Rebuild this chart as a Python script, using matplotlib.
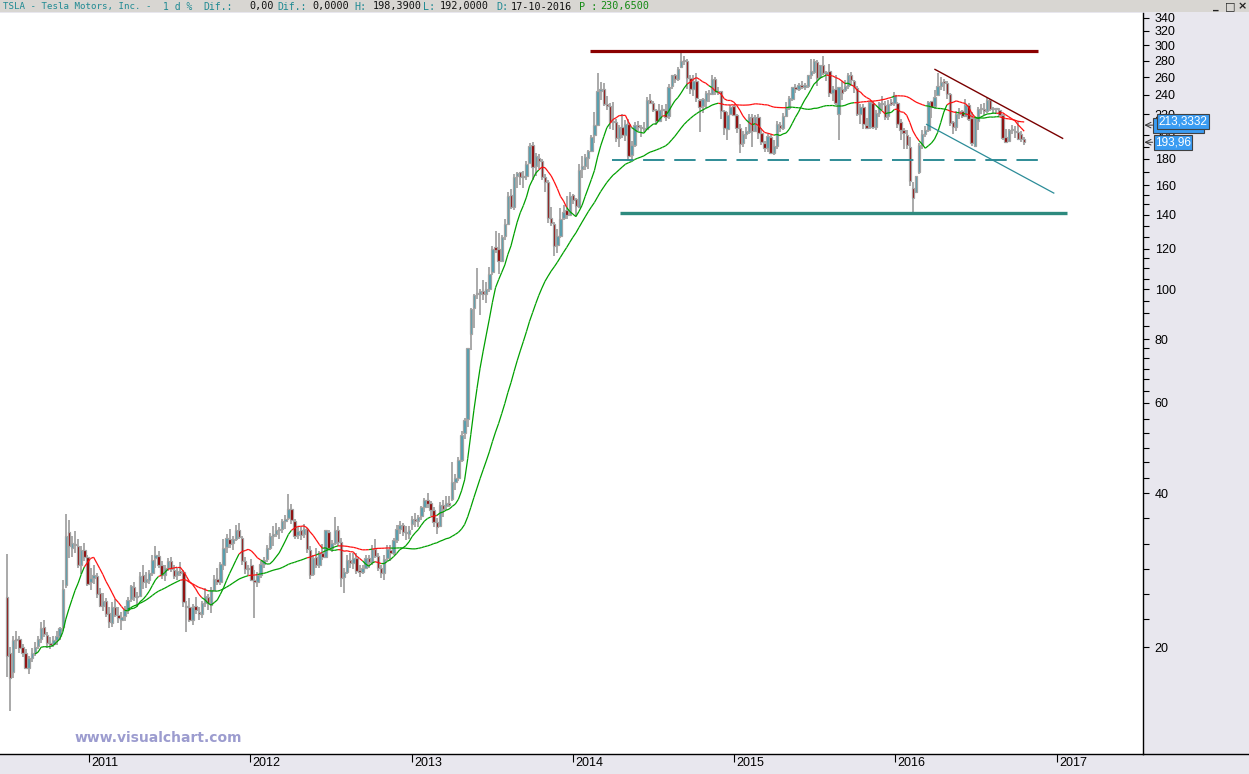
import matplotlib
matplotlib.use('Agg')
import matplotlib.pyplot as plt
import matplotlib.dates as mdates
import matplotlib.transforms as mtransforms
from matplotlib import font_manager
from matplotlib.collections import LineCollection
from matplotlib.patches import Rectangle
from matplotlib.lines import Line2D
import numpy as np
import pandas as pd

# TSLA weekly bars (open, high, low, close), weeks start on Monday
first_week = '2010-06-28'

bars_2010 = [
    (25.0, 30.4, 17.5, 19.2), (19.5, 20.0, 15.0, 17.4), (17.9, 21.0, 17.4, 20.6), (20.7, 21.5, 19.8, 20.6),
    (20.7, 21.0, 19.5, 19.9), (20.0, 20.3, 19.1, 19.5), (19.5, 19.8, 18.1, 18.2), (18.2, 19.2, 17.7, 19.0),
    (19.0, 19.9, 18.7, 19.5), (19.5, 20.5, 19.2, 20.0), (20.1, 21.0, 19.8, 20.7), (20.7, 22.4, 20.4, 21.8),
    (21.9, 22.6, 20.9, 21.2), (21.1, 21.4, 19.9, 20.4), (20.4, 20.9, 19.8, 20.2), (20.3, 21.0, 20.0, 20.6),
    (20.6, 21.5, 20.2, 21.0), (21.0, 21.9, 20.6, 21.8), (21.9, 27.0, 21.5, 26.0), (26.5, 36.4, 26.1, 33.0),
    (33.5, 35.5, 29.8, 31.5), (31.3, 33.0, 30.0, 32.0), (31.8, 33.7, 30.5, 31.6), (31.5, 32.5, 28.5, 29.0),
    (29.0, 31.5, 27.8, 31.0), (31.0, 32.0, 29.5, 30.0), (30.0, 30.3, 26.3, 26.6),
]
bars_2011 = [
    (26.8, 28.6, 25.9, 27.3), (27.3, 28.9, 26.6, 27.6), (27.5, 27.9, 24.9, 25.4), (25.5, 26.1, 24.0, 24.1),
    (24.1, 25.5, 23.5, 24.6), (24.6, 24.9, 22.9, 23.2), (23.3, 24.0, 21.8, 22.4), (22.3, 24.5, 21.9, 24.0),
    (24.0, 24.8, 22.9, 23.1), (23.1, 23.9, 22.3, 22.8), (22.6, 23.4, 21.6, 22.9), (23.0, 24.1, 22.5, 23.6),
    (23.6, 25.0, 23.2, 24.7), (24.8, 26.5, 24.5, 26.3), (26.2, 26.8, 24.6, 25.1), (25.0, 25.6, 24.0, 25.2),
    (25.2, 28.0, 25.0, 27.5), (27.6, 28.9, 26.0, 26.8), (26.8, 28.0, 26.1, 27.2), (27.1, 28.3, 26.6, 27.9),
    (27.9, 30.3, 27.5, 29.6), (29.8, 31.5, 28.5, 30.3), (30.1, 30.8, 28.6, 29.0), (28.9, 29.5, 27.2, 27.6),
    (27.6, 28.9, 26.9, 28.6), (28.6, 29.9, 28.2, 29.4), (29.4, 30.0, 28.0, 28.4), (28.3, 28.9, 27.2, 27.5),
    (27.6, 28.7, 27.1, 28.2), (28.2, 29.3, 27.5, 27.9), (28.0, 28.3, 24.0, 24.5), (24.0, 24.6, 21.4, 23.9),
    (24.0, 24.9, 22.4, 22.6), (22.6, 24.3, 22.1, 24.0), (24.1, 25.0, 23.2, 23.6), (23.4, 24.0, 22.6, 23.2),
    (23.2, 24.6, 22.8, 24.4), (24.4, 26.1, 23.9, 25.2), (25.1, 25.4, 23.6, 24.4), (24.2, 26.2, 23.3, 25.8),
    (25.9, 27.6, 25.7, 27.2), (27.2, 28.6, 26.5, 26.8), (26.8, 29.3, 26.4, 29.1), (29.0, 32.5, 28.3, 31.3),
    (31.4, 33.2, 30.6, 32.7), (32.6, 34.0, 31.2, 31.8), (32.0, 33.0, 30.9, 32.5), (32.6, 34.6, 32.2, 33.8),
    (33.9, 35.0, 32.5, 32.8), (32.7, 33.0, 29.0, 29.5), (29.5, 30.0, 27.8, 28.4), (28.4, 29.0, 27.7, 28.6),
]
bars_2012 = [
    (28.9, 29.7, 26.9, 27.0), (27.0, 28.3, 22.8, 26.8), (26.8, 28.0, 26.2, 27.6), (27.6, 29.5, 27.3, 29.1),
    (29.1, 30.0, 28.5, 29.6), (29.7, 31.7, 29.3, 31.2), (31.3, 33.4, 30.9, 33.0), (33.0, 34.5, 31.5, 33.3),
    (33.3, 34.9, 32.8, 33.8), (33.8, 34.4, 32.6, 34.0), (34.0, 35.6, 33.4, 35.2), (35.2, 36.3, 34.1, 35.6),
    (35.7, 39.9, 35.4, 37.2), (37.3, 38.0, 34.8, 35.4), (35.3, 35.6, 32.6, 33.0), (33.1, 34.3, 32.6, 33.7),
    (33.8, 34.3, 32.4, 33.1), (33.2, 34.8, 32.7, 34.0), (34.0, 34.2, 30.6, 31.1), (31.0, 31.5, 27.2, 27.6),
    (27.8, 30.3, 27.5, 29.9), (30.0, 31.3, 28.6, 29.0), (28.9, 30.8, 28.6, 30.5), (30.5, 31.8, 29.6, 30.0),
    (30.0, 33.9, 29.8, 33.8), (33.5, 33.9, 30.9, 31.3), (31.3, 32.4, 30.7, 32.0), (32.0, 35.9, 31.6, 33.9),
    (33.9, 34.5, 31.5, 32.1), (32.1, 32.7, 26.2, 27.3), (27.4, 28.5, 25.5, 28.0), (28.1, 30.2, 27.8, 29.6),
    (29.6, 30.5, 28.6, 29.2), (29.2, 30.6, 28.4, 29.8), (29.8, 30.5, 27.8, 28.2), (28.3, 28.9, 27.4, 28.0),
    (28.0, 29.0, 27.8, 28.6), (28.6, 30.3, 28.4, 29.8), (29.8, 30.2, 28.5, 29.3), (29.3, 31.6, 29.0, 31.1),
    (31.1, 32.6, 29.8, 30.1), (30.1, 30.5, 28.2, 28.5), (28.5, 28.9, 27.3, 27.9), (27.9, 30.2, 27.0, 29.7),
    (29.8, 31.7, 29.4, 31.1), (31.0, 31.6, 29.5, 30.5), (30.6, 32.7, 30.3, 32.4), (32.4, 34.6, 32.0, 34.0),
    (34.0, 35.3, 33.3, 34.6), (34.6, 35.0, 32.9, 33.6), (33.6, 34.5, 32.4, 33.4), (33.3, 34.5, 32.6, 33.9),
]
bars_2013 = [
    (34.8, 36.0, 33.9, 35.6), (35.6, 36.5, 34.4, 35.3), (35.2, 36.3, 34.3, 35.9), (36.0, 37.8, 35.5, 37.5),
    (37.5, 39.2, 36.8, 38.8), (38.8, 40.0, 37.4, 38.1), (38.2, 38.6, 36.0, 37.0), (37.1, 37.5, 34.3, 35.1),
    (35.1, 35.7, 33.3, 34.4), (34.5, 38.4, 34.3, 37.9), (37.9, 38.8, 35.9, 37.3), (37.8, 39.5, 37.0, 38.2),
    (38.3, 39.5, 37.5, 37.9), (38.9, 46.0, 38.6, 42.0), (42.0, 43.5, 40.5, 42.8), (42.8, 47.0, 42.3, 46.4),
    (46.5, 53.0, 46.0, 52.0), (52.5, 56.0, 51.0, 55.5), (55.8, 77.0, 53.9, 76.8), (81.9, 92.0, 76.0, 91.5),
    (92.0, 98.0, 84.0, 97.6), (98.0, 110.3, 96.0, 97.8), (97.8, 100.0, 89.0, 99.3), (99.5, 104.5, 95.5, 98.0),
    (98.0, 103.5, 94.0, 100.0), (100.0, 110.5, 99.0, 107.4), (108.0, 121.7, 106.5, 120.1), (121.0, 130.3, 118.0, 119.6),
    (120.0, 129.0, 107.0, 113.5), (113.5, 127.5, 113.0, 126.5), (127.0, 137.0, 125.0, 134.2), (134.5, 155.0, 134.0, 152.5),
    (153.0, 157.0, 143.5, 145.0), (145.0, 168.0, 143.0, 166.0), (166.5, 170.0, 158.0, 169.0), (169.5, 170.0, 160.0, 166.0),
    (166.0, 170.5, 158.0, 166.5), (166.5, 178.0, 164.0, 176.0), (177.0, 193.5, 176.0, 190.9), (192.0, 194.5, 163.5, 173.5),
    (174.0, 184.5, 167.0, 182.0), (181.0, 184.0, 172.0, 178.0), (178.0, 180.0, 164.0, 166.0), (166.0, 168.0, 155.0, 162.0),
    (162.5, 163.5, 135.0, 137.9), (138.0, 145.0, 133.0, 135.0), (134.0, 135.5, 116.1, 121.4), (122.0, 131.0, 118.0, 127.3),
    (127.0, 144.0, 126.0, 137.4), (138.0, 146.5, 136.5, 142.0), (143.0, 152.0, 137.0, 139.5), (140.0, 155.0, 139.5, 152.0),
    (153.0, 154.0, 147.0, 149.6),
]
bars_2014 = [
    (150.0, 151.0, 139.0, 145.7), (145.0, 176.0, 144.0, 171.1), (172.0, 182.0, 165.0, 174.6), (174.0, 184.0, 171.0, 181.4),
    (181.0, 187.0, 172.0, 186.2), (186.5, 200.0, 186.0, 199.0), (200.0, 222.0, 193.0, 209.6), (210.0, 265.0, 210.0, 244.8),
    (244.0, 254.0, 235.0, 246.0), (247.0, 253.0, 228.0, 230.0), (230.0, 239.0, 224.0, 228.0), (228.0, 231.0, 206.0, 212.0),
    (212.0, 232.0, 205.0, 212.2), (212.0, 215.0, 194.0, 198.0), (198.0, 210.0, 190.0, 207.5), (208.0, 220.0, 198.0, 200.1),
    (200.0, 214.0, 195.0, 211.0), (211.0, 215.0, 178.5, 182.0), (183.0, 195.0, 180.0, 192.0), (192.0, 212.0, 190.0, 210.0),
    (210.0, 213.0, 204.0, 207.5), (207.0, 210.0, 199.0, 206.5), (206.0, 212.0, 203.0, 206.0), (206.0, 238.0, 205.0, 235.0),
    (235.0, 241.0, 230.0, 231.0), (231.0, 234.0, 222.0, 224.0), (224.0, 225.0, 209.5, 213.2), (213.0, 230.0, 212.0, 224.0),
    (224.0, 229.0, 218.0, 224.0), (224.0, 230.0, 213.0, 217.0), (218.0, 252.0, 215.0, 249.0), (250.0, 263.0, 247.0, 262.0),
    (262.0, 264.0, 253.0, 258.0), (258.0, 272.0, 256.0, 269.7), (272.0, 291.4, 271.0, 279.0), (280.0, 286.0, 275.0, 279.2),
    (279.0, 282.0, 247.0, 259.3), (259.0, 263.0, 241.0, 246.6), (246.0, 262.0, 239.0, 255.2), (256.0, 265.0, 232.0, 236.9),
    (235.0, 236.0, 203.0, 227.5), (228.0, 237.0, 221.0, 235.2), (234.0, 244.0, 226.0, 242.0), (242.0, 245.0, 232.0, 241.0),
    (241.0, 262.0, 240.0, 258.0), (258.0, 260.0, 240.0, 242.8), (243.0, 249.0, 240.0, 244.5), (244.0, 244.5, 215.0, 223.7),
    (223.0, 224.0, 200.0, 207.0), (206.0, 222.0, 196.0, 219.3), (220.0, 229.0, 219.0, 227.8), (228.0, 229.0, 218.0, 219.3),
]
bars_2015 = [
    (219.0, 220.0, 202.0, 206.9), (207.0, 211.0, 185.0, 192.7), (193.0, 204.0, 190.0, 201.3), (201.0, 208.0, 197.0, 203.6),
    (203.0, 220.0, 201.0, 217.4), (217.0, 220.0, 190.0, 203.8), (204.0, 219.0, 203.0, 217.1), (217.0, 220.0, 197.0, 202.0),
    (202.0, 207.0, 192.0, 193.9), (193.0, 195.0, 186.0, 188.7), (189.0, 202.0, 186.0, 199.6), (199.0, 201.0, 184.0, 185.0),
    (185.0, 196.0, 183.0, 191.0), (191.0, 213.0, 188.0, 210.9), (210.0, 212.0, 203.0, 206.8), (207.0, 221.0, 205.0, 218.4),
    (218.0, 232.0, 217.0, 226.0), (226.0, 239.0, 224.0, 236.6), (236.0, 249.0, 233.0, 248.8), (248.0, 252.0, 242.0, 247.0),
    (247.0, 253.0, 244.0, 251.0), (251.0, 256.0, 247.0, 249.1), (249.0, 253.0, 245.0, 250.7), (250.0, 262.0, 248.0, 262.5),
    (262.0, 282.0, 258.0, 267.0), (266.0, 282.0, 264.0, 280.0), (278.0, 281.0, 250.0, 259.2), (260.0, 275.0, 258.0, 274.7),
    (275.0, 286.0, 263.0, 265.4), (264.0, 267.0, 255.0, 266.2), (267.0, 276.0, 238.0, 242.5), (242.0, 250.0, 233.0, 247.0),
    (247.0, 262.0, 229.0, 231.0), (220.0, 249.0, 196.0, 248.5), (247.0, 255.0, 235.0, 241.9), (245.0, 257.0, 243.0, 250.2),
    (250.0, 265.0, 247.0, 262.1), (262.0, 266.0, 250.0, 256.9), (256.0, 257.0, 242.0, 247.6), (248.0, 250.0, 218.0, 220.7),
    (220.0, 230.0, 211.0, 227.0), (227.0, 230.0, 206.0, 210.1), (210.0, 216.0, 206.0, 207.0), (208.0, 234.0, 206.0, 232.0),
    (231.0, 233.0, 206.0, 207.5), (208.0, 224.0, 205.0, 221.0), (221.0, 232.0, 217.0, 231.6), (231.0, 239.0, 224.0, 230.4),
    (229.0, 233.0, 214.0, 217.0), (218.0, 235.0, 214.0, 230.5), (231.0, 236.0, 228.0, 230.6), (231.0, 243.0, 228.0, 240.0),
]
bars_2016 = [
    (231.0, 232.0, 207.0, 211.0), (212.0, 215.0, 196.0, 204.9), (205.0, 207.0, 188.0, 202.5), (200.0, 205.0, 188.0, 191.2),
    (190.0, 199.0, 159.0, 162.6), (158.0, 162.0, 141.1, 151.0), (155.0, 167.0, 155.0, 166.6), (170.0, 193.0, 168.0, 191.9),
    (192.0, 205.0, 188.0, 201.0), (201.0, 209.0, 199.0, 205.0), (205.0, 233.0, 203.0, 232.7), (233.0, 234.0, 216.0, 227.8),
    (228.0, 245.0, 225.0, 237.6), (240.0, 265.0, 239.0, 250.1), (250.0, 260.0, 245.0, 254.5), (254.0, 258.0, 244.0, 253.7),
    (253.0, 256.0, 236.0, 240.8), (241.0, 242.0, 209.0, 211.5), (212.0, 213.0, 201.0, 207.6), (208.0, 223.0, 204.0, 220.3),
    (220.0, 226.0, 215.0, 223.0), (223.0, 224.0, 216.0, 218.0), (218.0, 236.0, 217.0, 229.0), (229.0, 231.0, 213.0, 215.5),
    (216.0, 222.0, 190.5, 193.2), (191.0, 217.0, 190.0, 216.5), (213.0, 227.0, 205.0, 224.8), (225.0, 230.0, 220.0, 225.0),
    (225.0, 231.0, 219.0, 222.9), (223.0, 237.0, 221.0, 234.8), (235.0, 236.0, 223.0, 225.6), (226.0, 227.0, 220.0, 224.9),
    (225.0, 226.0, 220.0, 225.0), (224.0, 226.0, 218.0, 219.3), (219.0, 220.0, 196.0, 197.8), (199.0, 206.0, 193.0, 194.5),
    (195.0, 206.0, 194.0, 205.4), (205.0, 210.0, 201.0, 205.4), (203.0, 209.0, 198.0, 204.0), (203.0, 213.0, 196.0, 196.6),
    (201.0, 204.0, 194.0, 196.5), (197.05, 198.39, 192.0, 193.96),
]

# drawn trend / support lines: (start date, start price, end date, end price)
resistance = ('2014-02-08', 292.0, '2016-11-19', 292.0)
support_dashed = ('2014-03-30', 179.0, '2016-11-23', 179.0)
support_low = ('2014-04-17', 141.2, '2017-01-23', 141.2)
trend_top = ('2016-03-31', 269.2, '2017-01-14', 197.4)
trend_bottom = ('2016-03-12', 210.2, '2016-12-25', 154.3)

price_ticks = [20, 40, 60, 80, 100, 120, 140, 160, 180, 200, 220, 240, 260, 280, 300, 320, 340]
minor_ticks = [22.7, 25.4, 28.4, 31.8, 35.7, 42.8, 45.9, 49.0, 52.4, 55.9, 63.3, 66.7, 70, 73.3, 76.7,
               85, 90, 95, 105, 110, 115, 126.7, 133.3, 146.7, 153.3, 170, 190]
years = [2011, 2012, 2013, 2014, 2015, 2016, 2017]
last_ma_label = 213.3332
last_close_label = 193.96
hidden_label = 209.5

# header pieces: text, left pixel, colour kind, font size
header = [('TSLA - Tesla Motors, Inc. -', 3, 'lab', 6.6), ('1 d %', 163, 'lab', 7.0),
          ('Dif.:', 203, 'lab', 7.0), ('0,00', 249, 'val', 7.3),
          ('Dif.:', 277, 'lab', 7.0), ('0,0000', 312, 'val', 7.3), ('H:', 354, 'lab', 7.3),
          ('198,3900', 373, 'val', 7.3), ('L:', 423, 'lab', 7.3), ('192,0000', 440, 'val', 7.3),
          ('D:', 496, 'lab', 7.3), ('17-10-2016', 511, 'val', 7.3), ('P :', 579, 'p', 7.3),
          ('230,6500', 600, 'p', 7.3)]

# ---------------------------------------------------------------
W, H = 1249, 774
BG = '#e8e7ee'
UP = '#4f9fb0'
DOWN = '#8e0000'
WICK = '#a3a3a3'
GREEN = '#00a000'
RED = '#ff1010'

names = {f.name for f in font_manager.fontManager.ttflist}
narrow = 'Liberation Sans Narrow' if 'Liberation Sans Narrow' in names else 'Liberation Sans'

bars = bars_2010 + bars_2011 + bars_2012 + bars_2013 + bars_2014 + bars_2015 + bars_2016
df = pd.DataFrame(bars, columns=['open', 'high', 'low', 'close'])
df.index = pd.date_range(first_week, periods=len(df), freq='7D') + pd.Timedelta(days=2)
xs = mdates.date2num(df.index.to_pydatetime())
o, h, l, c = (df[k].values for k in ['open', 'high', 'low', 'close'])

fast = df['close'].rolling(10).mean().values
slow = df['close'].rolling(40).mean().values

fig = plt.figure(figsize=(W / 100, H / 100), dpi=100, facecolor=BG)
ax = fig.add_axes([0, (H - 754) / H, 1143 / W, (754 - 13) / H])
ax.set_facecolor('white')

# candles
up = c >= o
ax.vlines(xs, l, h, color=WICK, lw=1.3, zorder=2)
body_lo = np.minimum(o, c)
body_h = np.maximum(np.abs(c - o), body_lo * 0.006)
ax.bar(xs[up], body_h[up], bottom=body_lo[up], width=5.5, color=UP, edgecolor=WICK, lw=0.9, zorder=3)
ax.bar(xs[~up], body_h[~up], bottom=body_lo[~up], width=5.5, color=DOWN, edgecolor=WICK, lw=0.9, zorder=3)

# moving averages coloured by price position
for ma in (slow, fast):
    segs, cols = [], []
    for i in range(1, len(ma)):
        if np.isnan(ma[i - 1]):
            continue
        segs.append([(xs[i - 1], ma[i - 1]), (xs[i], ma[i])])
        cols.append(GREEN if c[i] >= ma[i] else RED)
    ax.add_collection(LineCollection(segs, colors=cols, linewidths=0.9, zorder=4))


def seg(line, **kw):
    d0, p0, d1, p1 = line
    ax.plot(mdates.date2num(pd.to_datetime([d0, d1])), [p0, p1], **kw)


seg(resistance, color='#8b0000', lw=2.3, zorder=5, solid_capstyle='butt')
seg(support_dashed, color='#2f8c96', lw=1.4, dashes=(11, 5), zorder=5)
seg(support_low, color='#2d8a7e', lw=2.4, zorder=5, solid_capstyle='butt')
seg(trend_top, color='#7a0000', lw=1.0, zorder=5)
seg(trend_bottom, color='#2c8c98', lw=0.9, zorder=5)

# axes
ax.set_yscale('log')
ax.set_ylim(12.36, 347)
ax.set_xlim(mdates.date2num(pd.Timestamp('2010-06-14')), mdates.date2num(pd.Timestamp('2017-07-15')))
ax.yaxis.tick_right()
ax.yaxis.set_major_locator(matplotlib.ticker.FixedLocator(price_ticks))
ax.yaxis.set_major_formatter(matplotlib.ticker.FixedFormatter([str(t) for t in price_ticks]))
ax.yaxis.set_minor_locator(matplotlib.ticker.FixedLocator(minor_ticks))
ax.yaxis.set_minor_formatter(matplotlib.ticker.NullFormatter())
ax.tick_params(axis='y', which='major', direction='out', length=4.5, width=0.8, pad=4, labelsize=9)
ax.tick_params(axis='y', which='minor', direction='out', length=4.0, width=0.8)
for lab in ax.get_yticklabels():
    lab.set_fontfamily(narrow)

year_nums = mdates.date2num(pd.to_datetime([f'{y}-01-01' for y in years]))
ax.set_xticks(year_nums)
ax.tick_params(axis='x', direction='out', length=6, width=0.8, labelbottom=False)
xlab_tr = mtransforms.offset_copy(ax.get_xaxis_transform(), fig=fig, x=2.5, y=-2.5, units='dots')
for yv, xv in zip(years, year_nums):
    ax.text(xv, 0, str(yv), transform=xlab_tr, ha='left', va='top', fontsize=9, fontfamily=narrow)

for side in ('top', 'left'):
    ax.spines[side].set_visible(False)
ax.spines['right'].set_linewidth(1.0)
ax.spines['bottom'].set_linewidth(1.0)
fig.add_artist(Line2D([1143 / W, 1], [(H - 754) / H] * 2, color='black', lw=1.0))

# value boxes on the price scale
blend = mtransforms.blended_transform_factory(ax.transAxes, ax.transData)
box = dict(boxstyle='square,pad=0.12', fc='#3a9cf2', ec='#404040', lw=0.8)
ax.text(1.0097, hidden_label, '213,3332', transform=blend, color='#3a9cf2', fontsize=8.5,
        fontfamily=narrow, va='center', ha='left', bbox=box, clip_on=False, zorder=6)
ax.text(1.0135, last_ma_label, '213,3332', transform=blend, color='white', fontsize=8.5,
        fontfamily=narrow, va='center', ha='left', bbox=box, clip_on=False, zorder=7)
ax.text(1.0105, last_close_label, '193,96', transform=blend, color='white', fontsize=8.5,
        fontfamily=narrow, va='center', ha='left', bbox=box, clip_on=False, zorder=7)
for val in (hidden_label, last_close_label):
    ax.annotate('', xy=(1.0012, val), xytext=(1.0085, val), xycoords=blend, textcoords=blend,
                arrowprops=dict(arrowstyle='->', lw=0.7, color='#303030', shrinkA=0, shrinkB=0),
                annotation_clip=False)

# header bar
fig.add_artist(Rectangle((0, (H - 12) / H), 1, 12 / H, transform=fig.transFigure,
                         facecolor='#d8d6d2', edgecolor='none', zorder=1))
hcol = {'lab': '#1f8a93', 'val': '#111111', 'p': '#138a13'}
for txt, xp, kind, fs in header:
    fig.text(xp / W, 1 - 6.5 / H, txt, color=hcol[kind], fontsize=fs,
             fontfamily='DejaVu Sans Mono', va='center', ha='left')
for txt, xp in (('_', 1213), ('□', 1225), ('×', 1238)):
    fig.text(xp / W, 1 - 6 / H, txt, color='#202020', fontsize=8, fontweight='bold', va='center', ha='left')

fig.text(75 / W, 1 - 738 / H, 'www.visualchart.com', color='#9c9ccf', fontsize=10,
         fontweight='bold', va='center', ha='left')

fig.savefig('out.png', dpi=100, facecolor=BG)
